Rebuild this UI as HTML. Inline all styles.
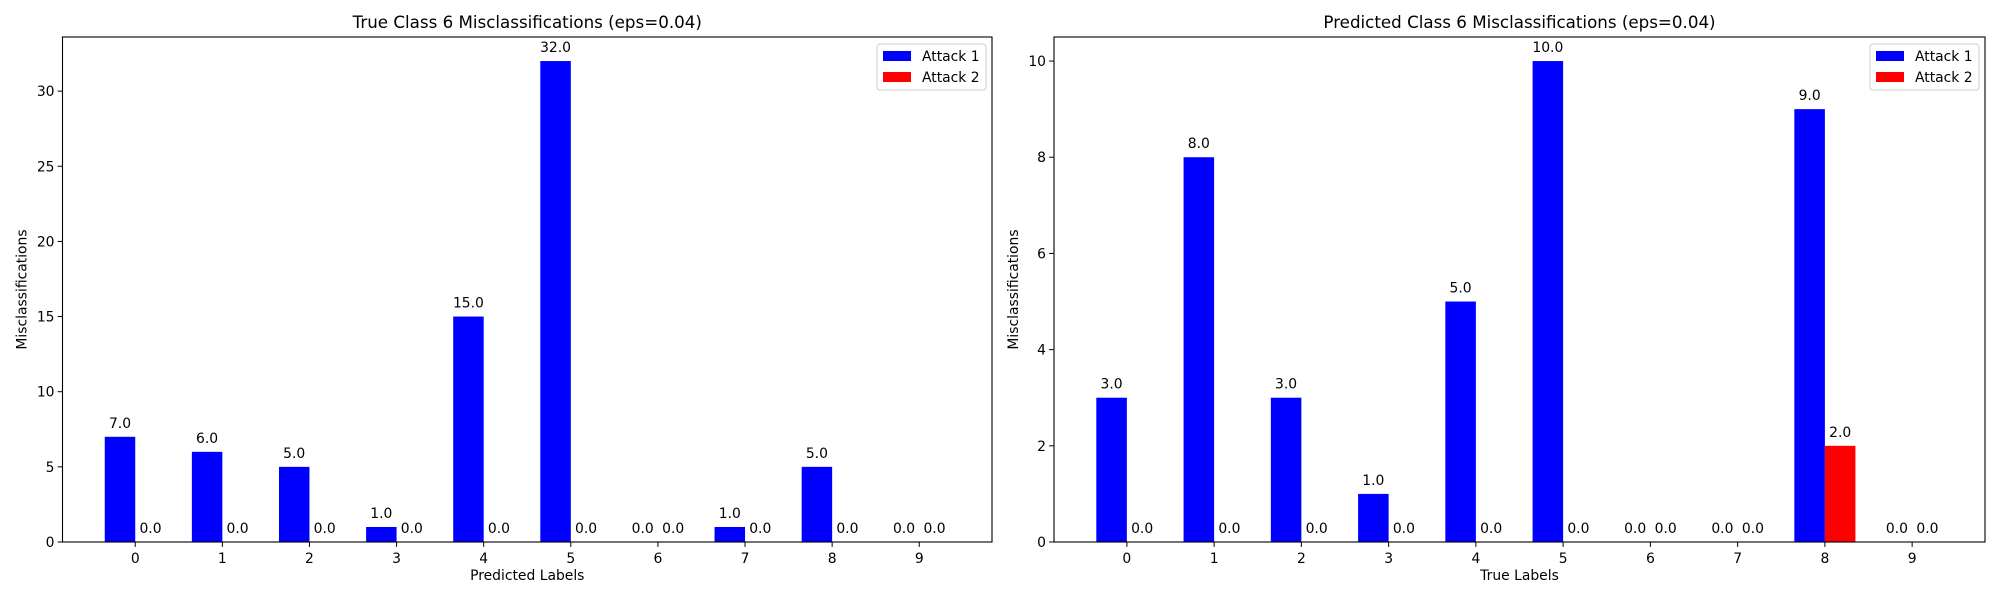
<!DOCTYPE html>
<html><head><meta charset="utf-8"><style>
html,body{margin:0;padding:0;background:#fff;}
svg text{font-family:"DejaVu Sans","Liberation Sans",sans-serif;fill:#000;}
</style></head><body>
<svg id="chart" width="2000" height="600" xmlns="http://www.w3.org/2000/svg"></svg>
<script>
const categories = ["0","1","2","3","4","5","6","7","8","9"];
const leftAttack1 = [7,6,5,1,15,32,0,1,5,0];
const leftAttack2 = [0,0,0,0,0,0,0,0,0,0];
const rightAttack1 = [3,8,3,1,5,10,0,0,9,0];
const rightAttack2 = [0,0,0,0,0,0,0,0,2,0];
const leftYTicks = [0,5,10,15,20,25,30];
const rightYTicks = [0,2,4,6,8,10];
const leftTitle = "True Class 6 Misclassifications (eps=0.04)";
const rightTitle = "Predicted Class 6 Misclassifications (eps=0.04)";

const NS = "http://www.w3.org/2000/svg";
const svg = document.getElementById('chart');
function mk(tag, attrs, parent){const e=document.createElementNS(NS,tag);for(const k in attrs)e.setAttribute(k,attrs[k]);(parent||svg).appendChild(e);return e;}

function panel(name, x0, x1, y0, y1, a1, a2, yticks, title, xlabel){
  const g = mk('g',{});
  
  
  const n = categories.length, w = 0.35;
  const lo = -w - 0.05*(n-1+2*w), hi = n-1 + w + 0.05*(n-1+2*w);
  const maxV = Math.max(...a1, ...a2);
  const ymax = maxV*1.05;
  const X = v => x0 + (v-lo)/(hi-lo)*(x1-x0);
  const Y = v => y1 - v/ymax*(y1-y0);
  categories.forEach((c,i)=>{
    [[a1,'#0000ff',-w/2,'attack1'],[a2,'#ff0000',w/2,'attack2']].forEach(([arr,col,off,s])=>{
      const v = arr[i];
      const bx = X(i+off-w/2), bw = X(i+off+w/2)-bx;
      const r = mk('rect',{x:bx,y:Y(v),width:bw,height:y1-Y(v),fill:col},g);
      
      
      const t = mk('text',{x:X(i+off),y:Y(v)-9,'text-anchor':'middle','font-size':'13.9'},g);
      
      
      t.textContent = v.toFixed(1);
    });
    mk('line',{x1:X(i),x2:X(i),y1:y1,y2:y1+4.9,stroke:'#000','stroke-width':1},g);
    const tl = mk('text',{x:X(i),y:y1+21,'text-anchor':'middle','font-size':'13.9'},g);
    
    
    tl.textContent = c;
  });
  yticks.forEach(v=>{
    mk('line',{x1:x0-4.9,x2:x0,y1:Y(v),y2:Y(v),stroke:'#000','stroke-width':1},g);
    const tl = mk('text',{x:x0-8,y:Y(v)+5,'text-anchor':'end','font-size':'13.9'},g);
    
    
    tl.textContent = v;
  });
  mk('rect',{x:x0,y:y0,width:x1-x0,height:y1-y0,fill:'none',stroke:'#000','stroke-width':1.1},g);
  const tt = mk('text',{x:(x0+x1)/2,y:y0-9,'text-anchor':'middle','font-size':'16.7'},g);
  
  
  tt.textContent = title;
  const xl = mk('text',{x:(x0+x1)/2,y:y1+38,'text-anchor':'middle','font-size':'13.9'},g);
  
  
  xl.textContent = xlabel;
  const ylx = x0 - (yticks[yticks.length-1]>=10 ? 36 : 28);
  const yl = mk('text',{x:ylx,y:(y0+y1)/2,'text-anchor':'middle','font-size':'13.9',transform:`rotate(-90 ${ylx} ${(y0+y1)/2})`},g);
  
  
  yl.textContent = 'Misclassifications';
  const lx = x1-115, ly = y0+7;
  const lg = mk('g',{},g);
  
  
  mk('rect',{x:lx,y:ly,width:109,height:46,rx:3,fill:'#fff','fill-opacity':0.8,stroke:'#ccc','stroke-width':1},lg);
  [['Attack 1','#0000ff'],['Attack 2','#ff0000']].forEach(([lab,col],k)=>{
    const e = mk('g',{},lg);
    
    
    mk('rect',{x:lx+6,y:ly+7+k*21,width:28,height:10,fill:col},e);
    const t = mk('text',{x:lx+45,y:ly+17+k*21,'font-size':'13.9'},e);
    t.textContent = lab;
  });
}
panel('left-chart', 62.5, 992, 37, 542, leftAttack1, leftAttack2, leftYTicks, leftTitle, 'Predicted Labels');
panel('right-chart', 1054, 1985, 37, 542, rightAttack1, rightAttack2, rightYTicks, rightTitle, 'True Labels');
</script>
</body></html>
